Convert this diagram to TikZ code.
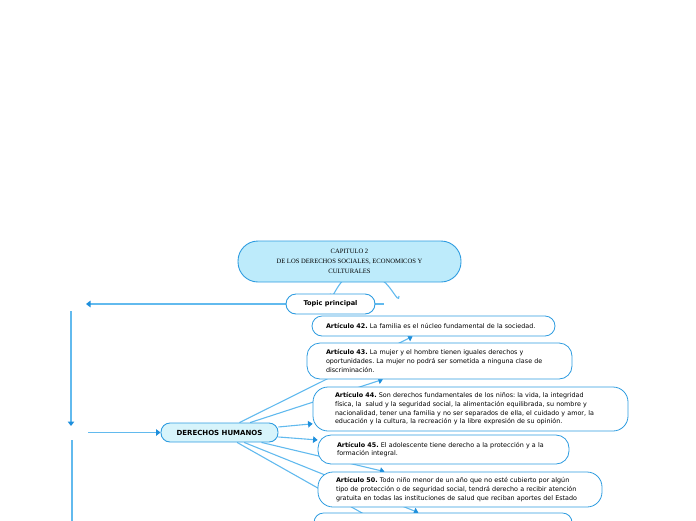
\documentclass[tikz,border=0pt]{standalone}
\usepackage{fontspec}
\setmainfont{DejaVu Sans}
\newfontfamily\capsfont{Liberation Serif}
\usetikzlibrary{positioning, arrows.meta}
\pgfdeclarelayer{bg}
\pgfsetlayers{bg,main}
\definecolor{mmborder}{HTML}{2E9CE0}
\definecolor{mmline}{HTML}{62BAEE}
\definecolor{mmtip}{HTML}{1E8FDC}
\definecolor{mmtitle}{HTML}{BDEBFB}
\definecolor{mmhub}{HTML}{D7F4FB}
\tikzset{
  titlebox/.style={draw=mmborder, line width=0.9pt, rounded corners=20pt, fill=mmtitle, align=center,
    minimum width=223pt, minimum height=41pt, font=\capsfont\fontsize{6.6}{10}\selectfont},
  topicbox/.style={draw=mmborder, line width=0.9pt, rounded corners=10pt, fill=white,
    minimum width=89pt, minimum height=20pt, font=\fontsize{6.6}{8}\selectfont\bfseries},
  hubbox/.style={draw=mmborder, line width=0.9pt, rounded corners=9pt, fill=mmhub,
    minimum width=117pt, minimum height=19pt, font=\fontsize{7}{8}\selectfont\bfseries},
  artbox/.style={draw=mmborder, line width=0.8pt, rounded corners=13pt, fill=white, align=left,
    font=\fontsize{6.4}{8.7}\selectfont\frenchspacing},
  link/.style={draw=mmline, line width=1.1pt},
  >={Triangle[length=4.5pt, width=6.5pt, color=mmtip]},
}

\begin{document}
\begin{tikzpicture}[x=1pt, y=-1pt]
  \useasboundingbox (0,0) rectangle (696,520);
  \clip (0,0) rectangle (696,520);

  \node[titlebox] (title) at (349.5,261.5) {CAPITULO 2\\DE LOS DERECHOS SOCIALES, ECONOMICOS Y\\CULTURALES};
  \node[topicbox] (topic) at (330.5,304) {Topic principal};
  \node[hubbox] (dh) at (219.5,432.5) {DERECHOS HUMANOS};

  % articulos
  \node[artbox, text width=215pt, inner xsep=14pt, minimum height=20pt, rounded corners=10pt] (art42) at (433.5,326)
    {\textbf{Artículo 42.} La familia es el núcleo fundamental de la sociedad.};
  \node[artbox, text width=227pt, inner xsep=19pt, minimum height=36pt] (art43) at (439.5,361)
    {\textbf{Artículo 43.} La mujer y el hombre tienen iguales derechos y\\oportunidades. La mujer no podrá ser sometida a ninguna clase de\\discriminación.};
  \node[artbox, text width=271pt, inner xsep=22pt, minimum height=44pt, rounded corners=15pt] (art44) at (470.5,409)
    {\textbf{Artículo 44.} Son derechos fundamentales de los niños: la vida, la integridad\\física, la\ \ salud y la seguridad social, la alimentación equilibrada, su nombre y\\nacionalidad, tener una familia y no ser separados de ella, el cuidado y amor, la\\educación y la cultura, la recreación y la libre expresión de su opinión.};
  \node[artbox, text width=213pt, inner xsep=19pt, minimum height=29pt] (art45) at (443.5,449.5)
    {\textbf{Artículo 45.} El adolescente tiene derecho a la protección y a la\\formación integral.};
  \node[artbox, text width=248pt, inner xsep=18pt, minimum height=35pt, rounded corners=15pt] (art50) at (460,489.5)
    {\textbf{Artículo 50.} Todo niño menor de un año que no esté cubierto por algún\\tipo de protección o de seguridad social, tendrá derecho a recibir atención\\gratuita en todas las instituciones de salud que reciban aportes del Estado};
  \node[artbox, minimum width=258pt, minimum height=19pt, rounded corners=9.5pt] (art51) at (443,522.5) {};
  \coordinate (art52) at (440,557);

  % extremos libres
  \coordinate (tin) at (352,276);
  \coordinate (rfree) at (399,296);
  \coordinate (rin) at (378,279);
  \coordinate (tright) at (384,304);
  \coordinate (left) at (86,304);
  \coordinate (vtop) at (71,311);
  \coordinate (vbot) at (71,426);
  \coordinate (hin) at (88,432.5);
  \coordinate (wtop) at (72,440);
  \coordinate (wbot) at (72,530);

  \begin{pgfonlayer}{bg}
    \clip (0,0) rectangle (696,520);
    \draw[link] (topic.north) to[out=-90, in=180, looseness=1.3] (tin);
    \draw[link] (rfree) to[out=-90, in=0] (rin);
    \draw[link] (topic.east) -- (tright);
    \draw[link, ->] (topic.west) -- (left);
    \draw[link, ->] (vtop) -- (vbot);
    \draw[link, ->] (hin) -- (dh.west);
    \draw[link] (wtop) -- (wbot);
    \foreach \a in {art42,art43,art44,art45,art50,art51,art52}
      \draw[link, ->] (dh) -- (\a);
  \end{pgfonlayer}
\end{tikzpicture}
\end{document}
